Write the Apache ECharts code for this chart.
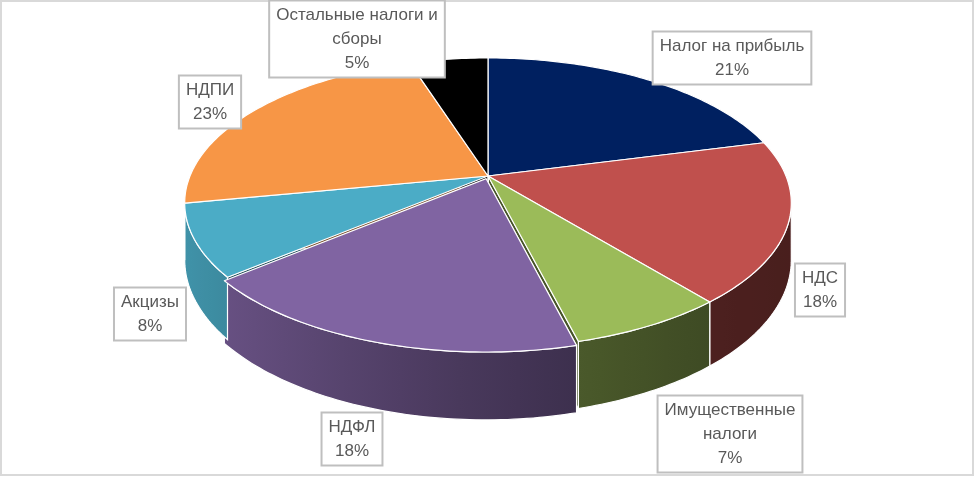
<!DOCTYPE html>
<html>
<head>
<meta charset="utf-8">
<script src="https://cdn.jsdelivr.net/npm/echarts@6/dist/echarts.min.js"></script>
<style>
  html, body { margin: 0; padding: 0; background: #fff; }
  #chart { width: 975px; height: 477px; }
</style>
</head>
<body>
<div id="chart"></div>
<script>
// data
const categories = ['Налог на прибыль', 'НДС', 'Имущественные\nналоги', 'НДФЛ', 'Акцизы', 'НДПИ', 'Остальные налоги и\nсборы'];
const shares = [21, 18, 7, 18, 8, 23, 5];
const colors = ['#002060', '#C0504D', '#9BBB59', '#8064A2', '#4BACC6', '#F79646', '#000000'];
const explode = [0, 0, 0, 0.02, 0, 0, 0];
// label box centres (px)
const labelPos = [[732, 58], [820, 290], [730, 434], [352, 439], [150, 314], [210, 102], [357, 39]];

// 3d pie geometry (perspective)
const CX = 488, CY = 176, A = 298, B = 140, PERSP = 0.186, DEPTH = 55;
const total = shares.reduce((s, v) => s + v, 0);
const starts = [];
let acc = 0;
shares.forEach(v => { starts.push(acc); acc += v; });

function proj(phi, h, du, dv) {
  const u = Math.sin(phi) + du, v = -Math.cos(phi) + dv;
  const k = 1 / (1 - PERSP * v);
  return [CX + A * u * k, CY + (B * v + DEPTH * h) * k];
}
function apex(h, du, dv) {
  const k = 1 / (1 - PERSP * dv);
  return [CX + A * du * k, CY + (B * dv + DEPTH * h) * k];
}
function shade(hex, f) {
  const n = parseInt(hex.slice(1), 16);
  const r = Math.round(((n >> 16) & 255) * f), g = Math.round(((n >> 8) & 255) * f), b = Math.round((n & 255) * f);
  return 'rgb(' + r + ',' + g + ',' + b + ')';
}
function wallFactor(x) {
  const t = Math.min(1, Math.max(0, (x - 185) / 606));
  return 0.38 + 0.47 * Math.pow(1 - t, 1.5);
}

const VIS0 = 100.7 * Math.PI / 180, VIS1 = 259.3 * Math.PI / 180;

function renderItem(params, api) {
  const i = params.dataIndex;
  const a0 = starts[i] / total * 2 * Math.PI;
  const a1 = (starts[i] + api.value(0)) / total * 2 * Math.PI;
  const mid = (a0 + a1) / 2;
  const du = Math.sin(mid) * explode[i], dv = -Math.cos(mid) * explode[i];
  const col = colors[i];
  const children = [];
  const steps = Math.max(4, Math.ceil((a1 - a0) / (Math.PI / 180)));

  // radial faces
  [a0, a1].forEach(a => {
    const p1 = apex(0, du, dv), p2 = proj(a, 0, du, dv), p3 = proj(a, 1, du, dv), p4 = apex(1, du, dv);
    children.push({
      type: 'polygon', z2: 0,
      shape: { points: [p1, p2, p3, p4] },
      style: { fill: shade(col, 0.45), stroke: '#fff', lineWidth: 0.8 }
    });
  });

  // front wall
  const w0 = Math.max(a0, VIS0), w1 = Math.min(a1, VIS1);
  if (w1 > w0) {
    const top = [], bot = [];
    const n = Math.max(4, Math.ceil((w1 - w0) / (Math.PI / 180)));
    for (let s = 0; s <= n; s++) {
      const a = w0 + (w1 - w0) * s / n;
      top.push(proj(a, 0, du, dv));
      bot.push(proj(a, 1, du, dv));
    }
    const xs = top.map(p => p[0]);
    const xmin = Math.min.apply(null, xs), xmax = Math.max.apply(null, xs);
    const stops = [];
    for (let s = 0; s <= 6; s++) {
      const x = xmin + (xmax - xmin) * s / 6;
      stops.push({ offset: s / 6, color: shade(col, wallFactor(x)) });
    }
    children.push({
      type: 'polygon', z2: 1,
      shape: { points: top.concat(bot.reverse()) },
      style: {
        fill: { type: 'linear', x: xmin, y: 0, x2: xmax + 0.01, y2: 0, global: true, colorStops: stops },
        stroke: '#fff', lineWidth: 1.2
      }
    });
  }

  // top face
  const pts = [apex(0, du, dv)];
  for (let s = 0; s <= steps; s++) {
    pts.push(proj(a0 + (a1 - a0) * s / steps, 0, du, dv));
  }
  children.push({
    type: 'polygon', z2: 2,
    shape: { points: pts },
    style: { fill: col, stroke: '#fff', lineWidth: 1.2, lineJoin: 'round' }
  });

  // label
  const pct = Math.round(api.value(0) / total * 100);
  children.push({
    type: 'text', z2: 3,
    x: labelPos[i][0], y: labelPos[i][1],
    style: {
      text: categories[i] + '\n' + pct + '%',
      fill: '#595959',
      font: '17px "Liberation Sans", Arial, sans-serif',
      align: 'center', verticalAlign: 'middle',
      lineHeight: 24,
      backgroundColor: '#fff',
      borderColor: '#BFBFBF', borderWidth: 2,
      padding: [1, 6, 2, 6]
    }
  });

  return { type: 'group', children: children };
}

const chart = echarts.init(document.getElementById('chart'));
chart.setOption({
  animation: false,
  backgroundColor: '#fff',
  graphic: [{
    type: 'rect', z: -1,
    shape: { x: 1, y: 1, width: 972, height: 474 },
    style: { fill: 'none', stroke: '#D9D9D9', lineWidth: 2 }
  }],
  series: [{
    type: 'custom',
    coordinateSystem: 'none',
    renderItem: renderItem,
    data: shares.map((v, i) => ({ name: categories[i], value: [v] }))
  }]
});
</script>
</body>
</html>
